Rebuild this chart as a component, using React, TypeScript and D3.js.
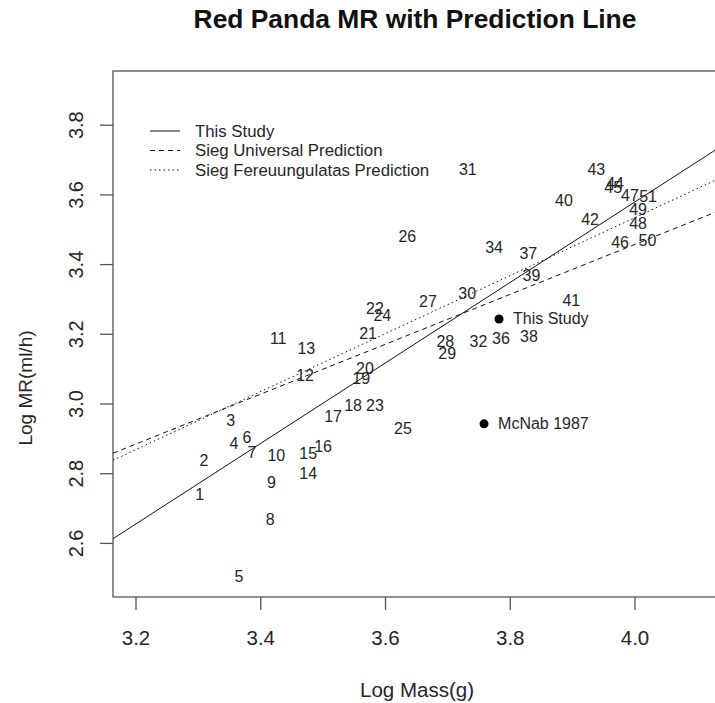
import React from "react";
import * as d3 from "d3";

const speciesIds = [
  "1","2","3","4","5","6","7","8","9","10",
  "11","12","13","14","15","16","17","18","19","20",
  "21","22","23","24","25","26","27","28","29","30",
  "31","32","34","36","37","38","39","40","41","42",
  "43","44","45","46","47","48","49","50","51",
];
const logMass = [
  3.302,3.309,3.352,3.357,3.365,3.378,3.386,3.415,3.417,3.425,
  3.428,3.471,3.473,3.476,3.476,3.500,3.516,3.548,3.561,3.567,
  3.572,3.583,3.583,3.595,3.628,3.635,3.668,3.696,3.699,3.731,
  3.732,3.749,3.774,3.785,3.829,3.830,3.834,3.886,3.898,3.928,
  3.938,3.968,3.965,3.976,3.992,4.005,4.005,4.020,4.021,
];
const logMR = [
  2.740,2.839,2.954,2.888,2.506,2.905,2.862,2.670,2.775,2.851,
  3.189,3.083,3.158,2.802,2.859,2.877,2.963,2.997,3.072,3.103,
  3.201,3.273,2.997,3.253,2.931,3.482,3.293,3.178,3.146,3.316,
  3.674,3.178,3.450,3.189,3.433,3.195,3.370,3.585,3.296,3.528,
  3.674,3.634,3.620,3.462,3.597,3.519,3.557,3.468,3.594,
];

const highlightNames = ["This Study", "McNab 1987"];
const highlightMass = [3.782, 3.758];
const highlightMR = [3.244, 2.943];

const lineNames = ["This Study", "Sieg Universal Prediction", "Sieg Fereuungulatas Prediction"];
const lineIntercepts = [-1.04, 0.594, 0.207];
const lineSlopes = [1.155, 0.716, 0.832];
const lineDash = ["none", "5,4", "1.5,3"];

const xTicks = [3.2, 3.4, 3.6, 3.8, 4.0];
const yTicks = [2.6, 2.8, 3.0, 3.2, 3.4, 3.6, 3.8];

const W = 715;
const H = 703;
const plotLeft = 113;
const plotTop = 71;
const plotBottom = 597;
const plotRight = 721;
const FONT = "'Liberation Sans', Arial, Helvetica, sans-serif";
const INK = "#262626";

export default function App() {
  const x = d3.scaleLinear().domain([3.2, 4.0]).range([136, 635]);
  const y = d3.scaleLinear().domain([3.0, 3.8]).range([404, 125.2]);
  const xDom = [x.invert(plotLeft), x.invert(plotRight)];

  const lineGen = d3
    .line<[number, number]>()
    .x((d) => x(d[0]))
    .y((d) => y(d[1]));

  return (
    <svg
      width={W}
      height={H}
      style={{ position: "absolute", left: 0, top: 0, background: "#fff" }}
      fontFamily={FONT}
    >
      <defs>
        <clipPath id="plotclip">
          <rect x={plotLeft} y={plotTop} width={plotRight - plotLeft} height={plotBottom - plotTop} />
        </clipPath>
      </defs>
      <rect x={0} y={0} width={W} height={H} fill="#fff" />
      <text x={415} y={28} textAnchor="middle" fontSize={26.4} fontWeight="bold" fill="#111">
        Red Panda MR with Prediction Line
      </text>

      {/* frame */}
      <rect
        x={plotLeft}
        y={plotTop}
        width={plotRight - plotLeft}
        height={plotBottom - plotTop}
        fill="none"
        stroke="#555"
        strokeWidth={1.3}
      />

      {/* x axis */}
      {xTicks.map((t) => (
        <g key={"x" + t}>
          <line x1={x(t)} x2={x(t)} y1={plotBottom} y2={plotBottom + 13} stroke="#555" strokeWidth={1.3} />
          <text x={x(t)} y={645} textAnchor="middle" fontSize={20.5} fill={INK}>
            {t.toFixed(1)}
          </text>
        </g>
      ))}
      <text x={417} y={697} textAnchor="middle" fontSize={20.5} fill={INK}>
        Log Mass(g)
      </text>

      {/* y axis */}
      {yTicks.map((t) => (
        <g key={"y" + t}>
          <line x1={plotLeft - 13} x2={plotLeft} y1={y(t)} y2={y(t)} stroke="#555" strokeWidth={1.3} />
          <text
            transform={`translate(83,${y(t)}) rotate(-90)`}
            textAnchor="middle"
            fontSize={20}
            fill={INK}
          >
            {t.toFixed(1)}
          </text>
        </g>
      ))}
      <text
        transform={`translate(32,388) rotate(-90)`}
        textAnchor="middle"
        fontSize={19}
        fill={INK}
      >
        Log MR(ml/h)
      </text>

      <g clipPath="url(#plotclip)">
        {lineNames.map((n, i) => (
          <path
            key={n}
            d={
              lineGen([
                [xDom[0], lineIntercepts[i] + lineSlopes[i] * xDom[0]],
                [xDom[1], lineIntercepts[i] + lineSlopes[i] * xDom[1]],
              ]) || ""
            }
            fill="none"
            stroke="#111"
            strokeWidth={1}
            strokeDasharray={lineDash[i]}
          />
        ))}

        {speciesIds.map((id, i) => (
          <text
            key={id}
            x={x(logMass[i])}
            y={y(logMR[i])}
            textAnchor="middle"
            dominantBaseline="central"
            fontSize={16}
            fill={INK}
          >
            {id}
          </text>
        ))}

        {highlightNames.map((n, i) => (
          <g key={n}>
            <circle cx={x(highlightMass[i])} cy={y(highlightMR[i])} r={4.5} fill="#000" />
            <text
              x={x(highlightMass[i]) + 14}
              y={y(highlightMR[i])}
              dominantBaseline="central"
              fontSize={16}
              fill={INK}
            >
              {n}
            </text>
          </g>
        ))}
      </g>

      {/* legend */}
      {lineNames.map((n, i) => (
        <g key={"lg" + n}>
          <line
            x1={150}
            x2={180}
            y1={131 + i * 19.5}
            y2={131 + i * 19.5}
            stroke="#111"
            strokeWidth={1}
            strokeDasharray={lineDash[i]}
          />
          <text x={195} y={131 + i * 19.5} dominantBaseline="central" fontSize={16.8} fill={INK}>
            {n}
          </text>
        </g>
      ))}
    </svg>
  );
}
